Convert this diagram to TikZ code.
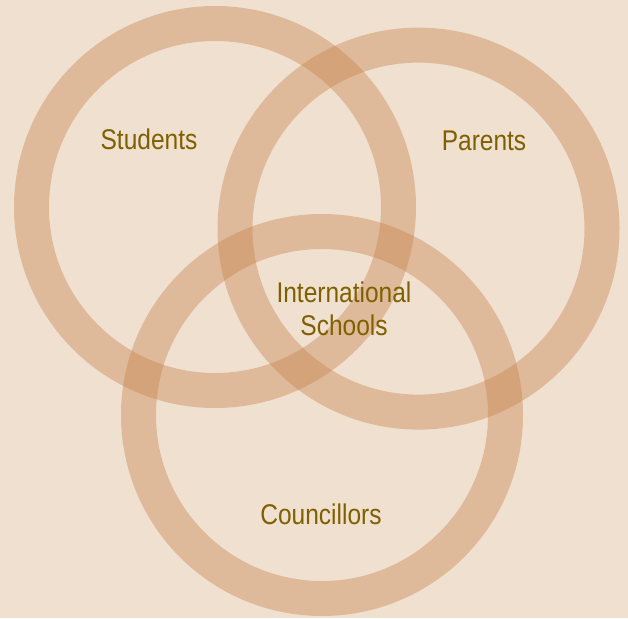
\documentclass[tikz,border=0pt]{standalone}
\usepackage{fontspec}
\setmainfont{Liberation Sans}
\usepackage{tikz}
\usetikzlibrary{positioning}
\definecolor{bgcream}{RGB}{240,224,208}
\definecolor{ringtan}{RGB}{198,129,73}
\definecolor{labelolive}{RGB}{127,96,0}

\begin{document}
\begin{tikzpicture}[x=1pt, y=-1pt,
    ring/.style={draw=ringtan, line width=35pt, draw opacity=0.4},
    lbl/.style={text=labelolive, font=\fontsize{28.5}{33}\selectfont, xscale=0.86, inner sep=0pt, anchor=base, align=center}]
    % Background
    \fill[bgcream] (0,0) rectangle (628,618);
    \useasboundingbox (0,0) rectangle (628,618);
    % Three rings
    \foreach \cx/\cy/\nm in {215/207/stu, 418.5/228.6/par, 322/415/cou} {
        \coordinate (\nm) at (\cx,\cy);
        \draw[ring] (\nm) circle[radius=183.5];
    }
    % Labels
    \node[lbl] (students) at (149,149.5) {Students};
    \node[lbl] (parents) at (484,150.5) {Parents};
    \node[lbl] (schools) at (344,335.5) {International\\Schools};
    \node[lbl] (councillors) at (321,524) {Councillors};
\end{tikzpicture}
\end{document}
